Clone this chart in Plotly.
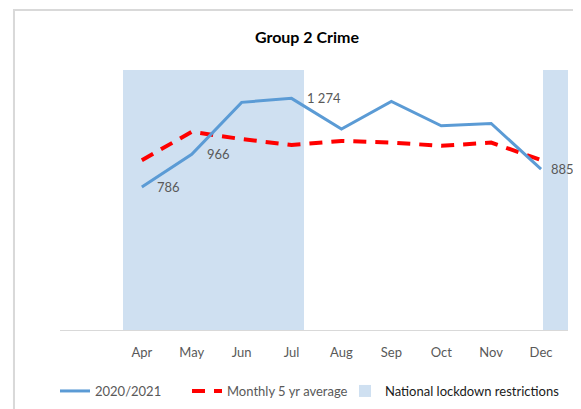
import plotly.graph_objects as go

months = ["Apr", "May", "Jun", "Jul", "Aug", "Sep", "Oct", "Nov", "Dec"]
crime_2020_21 = [786, 966, 1252, 1274, 1105, 1257, 1123, 1136, 885]
avg_5yr = [934, 1090, 1050, 1018, 1040, 1031, 1013, 1031, 935]
lockdown = [1, 1, 1, 1, 0, 0, 0, 0, 1]
labelled_months = ["Apr", "May", "Jul", "Dec"]

FONT = "Lato, Open Sans, sans-serif"
GREY = "#595959"
W, H = 573, 401  # page body adds an 8px margin, so lay out 8px up/left

# shading bars: start/width of each band in category units (style only)
band_offset = [-0.375, -0.5, -0.5, -0.5, 0, 0, 0, 0, 0.04]
band_width = [0.875, 1, 1, 0.75, 0, 0, 0, 0, 1]

fig = go.Figure()

# bands sit on the primary y axis so the lines (y2, overlaying) are drawn on top
fig.add_trace(go.Bar(
    x=months,
    y=lockdown,
    offset=band_offset,
    width=band_width,
    yaxis="y",
    marker=dict(color="#cfe0f1", line_width=0),
    name="<span style='color:#1a1a1a'>National lockdown restrictions</span>",
    legend="legend3",
    hoverinfo="skip",
))

fig.add_trace(go.Scatter(
    x=months,
    y=avg_5yr,
    yaxis="y2",
    mode="lines",
    line=dict(color="#ff0000", width=4, dash="13px,9px"),
    name="Monthly 5 yr average",
    legend="legend2",
))

fig.add_trace(go.Scatter(
    x=months,
    y=crime_2020_21,
    yaxis="y2",
    mode="lines",
    line=dict(color="#5b9bd5", width=3),
    name="2020/2021",
    legend="legend",
))

for month, value in zip(months, crime_2020_21):
    if month in labelled_months:
        fig.add_annotation(
            x=month,
            y=value,
            yref="y2",
            text=f"{value:,}".replace(",", " "),
            showarrow=False,
            xanchor="left",
            yanchor="middle",
            xshift=13 if month != "Dec" else 8,
            font=dict(family=FONT, size=13, color=GREY),
        )

# chart frame
fig.add_shape(
    type="rect",
    xref="paper", yref="paper",
    x0=-0.0906, x1=1.0236, y0=-0.4, y1=1.2308,
    line=dict(color="#d9d9d9", width=2),
    fillcolor="rgba(0,0,0,0)",
    layer="below",
)


def legend_box(left_px):
    return dict(
        orientation="h",
        xref="container",
        yref="container",
        x=left_px / W,
        xanchor="left",
        y=1 - 383 / H,
        yanchor="middle",
        font=dict(family=FONT, size=13, color=GREY),
        bgcolor="rgba(0,0,0,0)",
    )


fig.update_layout(
    width=W,
    height=H,
    margin=dict(l=52, r=13, t=62, b=79, autoexpand=False),
    paper_bgcolor="white",
    plot_bgcolor="white",
    font=dict(family=FONT, size=13, color=GREY),
    title=dict(
        text="<b>Group 2 Crime</b>",
        x=299 / W,
        xanchor="center",
        xref="container",
        y=1 - 29 / H,
        yanchor="middle",
        yref="container",
        font=dict(family=FONT, size=16, color="#000000"),
    ),
    xaxis=dict(
        type="category",
        range=[-1.64, 8.54],
        showgrid=False,
        showline=True,
        linecolor="#d9d9d9",
        linewidth=1,
        ticks="",
        ticklabelstandoff=10,
        tickfont=dict(family=FONT, size=13, color=GREY),
        fixedrange=True,
    ),
    yaxis=dict(
        range=[0, 1],
        showgrid=False,
        showticklabels=False,
        zeroline=False,
        ticks="",
    ),
    yaxis2=dict(
        range=[0, 1430],
        overlaying="y",
        showgrid=False,
        showticklabels=False,
        zeroline=False,
    ),
    bargap=0,
    showlegend=True,
    legend=legend_box(47),
    legend2=legend_box(179),
    legend3=legend_box(337),
)

fig.write_html("out.html")
